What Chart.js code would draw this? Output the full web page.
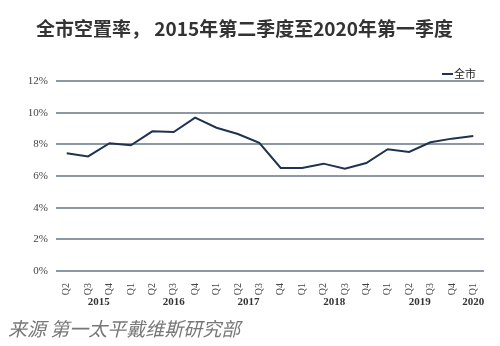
<!DOCTYPE html>
<html>
<head>
<meta charset="utf-8">
<script src="https://cdn.jsdelivr.net/npm/chart.js@4.4.1/dist/chart.umd.min.js"></script>
<style>
  html, body { margin: 0; padding: 0; background: #fff; }
  #wrap { position: relative; width: 500px; height: 346px; overflow: hidden; }
  #c { position: absolute; left: 0; top: 0; }
  #title { position: absolute; left: 36px; top: 14px; font-family: "Noto Sans CJK SC", sans-serif; font-weight: bold; font-size: 19px; color: #333; white-space: nowrap; letter-spacing: 0px; }
  #foot { position: absolute; left: 8px; top: 314px; font-family: "Noto Sans CJK SC", sans-serif; font-style: italic; font-size: 19px; color: #777; white-space: nowrap; }
  #legend { position: absolute; left: 442px; top: 65px; font-family: "Noto Sans CJK SC", sans-serif; font-size: 11px; color: #222; white-space: nowrap; }
  #legend .ln { display: inline-block; width: 11px; height: 0; border-top: 2px solid #1f3250; vertical-align: middle; margin-right: 1px; position: relative; top: -1px; }
</style>
</head>
<body>
<div id="wrap">
  <canvas id="c" width="500" height="346"></canvas>
  <div id="title">全市空置率， 2015年第二季度至2020年第一季度</div>
  <div id="legend"><span class="ln"></span>全市</div>
  <div id="foot">来源 第一太平戴维斯研究部</div>
</div>
<script>
const quarters = ['Q2','Q3','Q4','Q1','Q2','Q3','Q4','Q1','Q2','Q3','Q4','Q1','Q2','Q3','Q4','Q1','Q2','Q3','Q4','Q1'];
const vacancy = [7.43, 7.24, 8.07, 7.94, 8.82, 8.78, 9.69, 9.05, 8.65, 8.09, 6.51, 6.51, 6.78, 6.46, 6.82, 7.69, 7.52, 8.13, 8.36, 8.53];
const seriesName = '全市';
const yearLabels = ['2015', '2016', '2017', '2018', '2019', '2020'];
const yearAt = [1.5, 5, 8.5, 12.5, 16.5, 19];
const yTicks = [0, 2, 4, 6, 8, 10, 12];

const yearPlugin = {
  id: 'yearLabels',
  afterDraw(chart) {
    const ctx = chart.ctx;
    const xs = chart.scales.x;
    ctx.save();
    ctx.font = 'bold 11px "Liberation Serif", serif';
    ctx.fillStyle = '#333';
    ctx.textAlign = 'center';
    ctx.textBaseline = 'middle';
    yearLabels.forEach((y, i) => {
      ctx.fillText(y, xs.getPixelForValue(yearAt[i]), 302);
    });
    ctx.restore();
  }
};

new Chart(document.getElementById('c'), {
  type: 'line',
  data: {
    labels: quarters,
    datasets: [{
      label: seriesName,
      data: vacancy,
      borderColor: '#1f3250',
      borderWidth: 2,
      pointRadius: 0,
      tension: 0,
      fill: false
    }]
  },
  options: {
    responsive: false,
    animation: false,
    layout: { padding: { left: 0, right: 16, top: 81, bottom: 35 } },
    plugins: { legend: { display: false }, tooltip: { enabled: false } },
    scales: {
      x: {
        offset: true,
        grid: { display: false },
        border: { display: false },
        ticks: {
          minRotation: 90, maxRotation: 90, autoSkip: false,
          color: '#444', padding: 4,
          font: { family: '"Liberation Serif", serif', size: 10 }
        },
        afterFit(scale) { scale.height = 40; }
      },
      y: {
        min: 0, max: 12,
        afterBuildTicks(scale) { scale.ticks = yTicks.map(v => ({ value: v })); },
        grid: { color: '#8d98a5', lineWidth: 2, drawTicks: false },
        border: { display: false },
        ticks: {
          color: '#444', padding: 8,
          font: { family: '"Liberation Serif", serif', size: 11 },
          callback: v => v + '%'
        },
        afterFit(scale) { scale.width = 56; }
      }
    }
  },
  plugins: [yearPlugin]
});
</script>
</body>
</html>
